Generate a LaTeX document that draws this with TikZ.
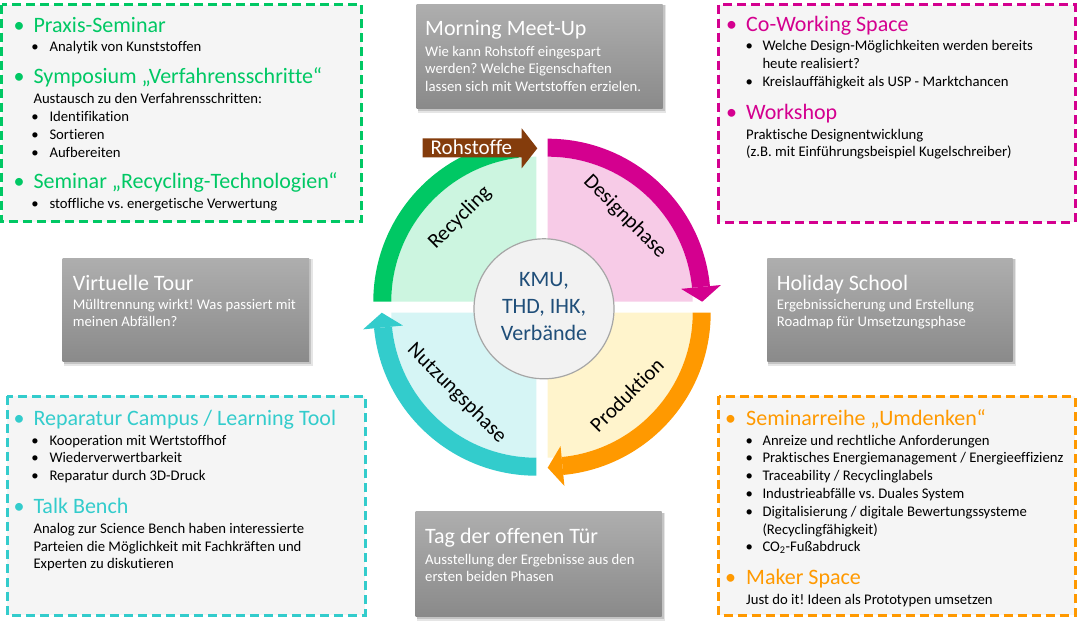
\documentclass[tikz,border=0pt]{standalone}
\usepackage{fontspec}
\setmainfont{Carlito}[Ligatures={NoCommon,NoDiscretionary,NoRare}]
\frenchspacing
\definecolor{kGreen}{HTML}{00C864}
\definecolor{kGreenL}{HTML}{CCF5E0}
\definecolor{kMag}{HTML}{D4008F}
\definecolor{kMagL}{HTML}{F7CBE7}
\definecolor{kOr}{HTML}{FF9900}
\definecolor{kOrL}{HTML}{FFF4CC}
\definecolor{kTu}{HTML}{33CCCC}
\definecolor{kTuL}{HTML}{D6F5F5}
\definecolor{kBrown}{HTML}{843C0C}
\definecolor{kBoxBg}{HTML}{F5F5F5}
\definecolor{kGTop}{HTML}{AEAEAE}
\definecolor{kGBot}{HTML}{8A8A8A}
\definecolor{kHubTxt}{HTML}{1F4E79}
\definecolor{kHubFill}{HTML}{F2F2F2}
\definecolor{kHubDraw}{HTML}{A6A6A6}
\newcommand\mygraybox[4]{%
  \fill[black,opacity=.10] ({#1+1},{#2+1}) rectangle ({#3+3.5},{#4+4.5});
  \fill[black,opacity=.14] ({#1+1},{#2+1}) rectangle ({#3+2},{#4+2.5});
  \shade[top color=kGTop,bottom color=kGBot] (#1,#2) rectangle (#3,#4);}
\begin{document}
\begin{tikzpicture}[x=1pt,y=-1pt,
  dbox/.style={fill=kBoxBg,line width=3pt,dash pattern=on 9pt off 5pt},
  hd/.style={anchor=base west,inner sep=0pt,font=\fontsize{22}{26}\selectfont},
  hbul/.style={anchor=base,inner sep=0pt,font=\fontsize{22}{26}\selectfont},
  tx/.style={anchor=base west,inner sep=0pt,font=\fontsize{14.7}{17.6}\selectfont,text=black},
  sbul/.style={anchor=base,inner sep=0pt,font=\fontsize{14.7}{17.6}\selectfont,text=black},
  gtitle/.style={hd,text=white},
  gtx/.style={tx,text=white},
  qlabel/.style={inner sep=0pt,font=\fontsize{21}{24}\selectfont,text=black},
  hubtx/.style={anchor=base,inner sep=0pt,font=\fontsize{22}{26}\selectfont,text=kHubTxt}]
\useasboundingbox (0,0) rectangle (1080,624);
\fill[white] (0,0) rectangle (1080,624);

% ---------- dashed boxes ----------
\draw[dbox,draw=kGreen] (1.5,4.8) rectangle (361.5,221.5);
\draw[dbox,draw=kMag] (718.7,4.7) rectangle (1075,222);
\draw[dbox,draw=kTu] (7.3,396.3) rectangle (365,615.3);
\draw[dbox,draw=kOr] (718.7,396.3) rectangle (1075,615.3);

% ---------- gray boxes ----------
\mygraybox{416.7}{4}{662.7}{108.3}
\mygraybox{62.7}{258.3}{309}{361.7}
\mygraybox{767.3}{258.3}{1012.7}{361.7}
\mygraybox{415.7}{511.7}{661.7}{616}

\node[gtitle] (mmT) at (425,35.5) {Morning Meet-Up};
\node[gtx] (mm1) at (425,56) {Wie kann Rohstoff eingespart};
\node[gtx] (mm2) at (425,73.5) {werden? Welche Eigenschaften};
\node[gtx] (mm3) at (425,91) {lassen sich mit Wertstoffen erzielen.};

\node[gtitle] (vtT) at (72.7,290) {Virtuelle Tour};
\node[gtx] (vt1) at (72.7,309) {Mülltrennung wirkt! Was passiert mit};
\node[gtx] (vt2) at (72.7,326.7) {meinen Abfällen?};

\node[gtitle] (hsT) at (776.7,290) {Holiday School};
\node[gtx] (hs1) at (776.7,309) {Ergebnissicherung und Erstellung};
\node[gtx] (hs2) at (776.7,326.7) {Roadmap für Umsetzungsphase};

\node[gtitle] (ttT) at (425,543.3) {Tag der offenen Tür};
\node[gtx] (tt1) at (425,564) {Ausstellung der Ergebnisse aus den};
\node[gtx] (tt2) at (425,581) {ersten beiden Phasen};

% ---------- green box text ----------
\node[hbul,text=kGreen] (gb1) at (19.2,32) {•};
\node[hd,text=kGreen] (gh1) at (33.3,32) {Praxis-Seminar};
\node[sbul] (gs1) at (35,51.7) {•};
\node[tx] (gt1) at (49.3,51.7) {Analytik von Kunststoffen};
\node[hbul,text=kGreen] (gb2) at (19.2,83.3) {•};
\node[hd,text=kGreen] (gh2) at (33.3,83.3) {Symposium „Verfahrensschritte“};
\node[tx] (gt2) at (33.3,103.3) {Austausch zu den Verfahrensschritten:};
\node[sbul] (gs3) at (35,121.7) {•};
\node[tx] (gt3) at (49.3,121.7) {Identifikation};
\node[sbul] (gs4) at (35,139.3) {•};
\node[tx] (gt4) at (49.3,139.3) {Sortieren};
\node[sbul] (gs5) at (35,157.3) {•};
\node[tx] (gt5) at (49.3,157.3) {Aufbereiten};
\node[hbul,text=kGreen] (gb3) at (19.2,188.3) {•};
\node[hd,text=kGreen] (gh3) at (33.3,188.3) {Seminar „Recycling-Technologien“};
\node[sbul] (gs6) at (35,208.3) {•};
\node[tx] (gt6) at (49.3,208.3) {stoffliche vs. energetische Verwertung};

% ---------- magenta box text ----------
\node[hbul,text=kMag] (mb1) at (731.7,31.7) {•};
\node[hd,text=kMag] (mh1) at (746,31.7) {Co-Working Space};
\node[sbul] (ms1) at (749.3,50.7) {•};
\node[tx] (mt1) at (762.3,50.7) {Welche Design-Möglichkeiten werden bereits};
\node[tx] (mt2) at (762.3,68.3) {heute realisiert?};
\node[sbul] (ms3) at (749.3,86.7) {•};
\node[tx] (mt3) at (762.3,86.7) {Kreislauffähigkeit als USP - Marktchancen};
\node[hbul,text=kMag] (mb2) at (731.7,119.3) {•};
\node[hd,text=kMag] (mh2) at (746,119.3) {Workshop};
\node[tx] (mt4) at (746,139.3) {Praktische Designentwicklung};
\node[tx] (mt5) at (746,156.7) {(z.B. mit Einführungsbeispiel Kugelschreiber)};

% ---------- turquoise box text ----------
\node[hbul,text=kTu] (tb1) at (19.2,425) {•};
\node[hd,text=kTu] (th1) at (33.3,425) {Reparatur Campus / Learning Tool};
\node[sbul] (ts1) at (35,445) {•};
\node[tx] (tq1) at (49.3,445) {Kooperation mit Wertstoffhof};
\node[sbul] (ts2) at (35,462.7) {•};
\node[tx] (tq2) at (49.3,462.7) {Wiederverwertbarkeit};
\node[sbul] (ts3) at (35,480.7) {•};
\node[tx] (tq3) at (49.3,480.7) {Reparatur durch 3D-Druck};
\node[hbul,text=kTu] (tb2) at (19.2,513.3) {•};
\node[hd,text=kTu] (th2) at (33.3,513.3) {Talk Bench};
\node[tx] (tq4) at (33.3,533.3) {Analog zur Science Bench haben interessierte};
\node[tx] (tq5) at (33.3,551) {Parteien die Möglichkeit mit Fachkräften und};
\node[tx] (tq6) at (33.3,568.3) {Experten zu diskutieren};

% ---------- orange box text ----------
\node[hbul,text=kOr] (ob1) at (730.7,425) {•};
\node[hd,text=kOr] (oh1) at (746,425) {Seminarreihe „Umdenken“};
\node[sbul] (os1) at (749.3,445) {•};
\node[tx] (ot1) at (762.3,445) {Anreize und rechtliche Anforderungen};
\node[sbul] (os2) at (749.3,462.7) {•};
\node[tx] (ot2) at (762.3,462.7) {Praktisches Energiemanagement / Energieeffizienz};
\node[sbul] (os3) at (749.3,480.7) {•};
\node[tx] (ot3) at (762.3,480.7) {Traceability / Recyclinglabels};
\node[sbul] (os4) at (749.3,498.3) {•};
\node[tx] (ot4) at (762.3,498.3) {Industrieabfälle vs. Duales System};
\node[sbul] (os5) at (749.3,516) {•};
\node[tx] (ot5) at (762.3,516) {Digitalisierung / digitale Bewertungssysteme};
\node[tx] (ot6) at (762.3,534) {(Recyclingfähigkeit)};
\node[sbul] (os7) at (749.3,551.7) {•};
\node[tx] (ot7) at (762.3,551.7) {CO\textsubscript{2}-Fußabdruck};
\node[hbul,text=kOr] (ob2) at (730.7,584) {•};
\node[hd,text=kOr] (oh2) at (746,584) {Maker Space};
\node[tx] (ot8) at (746,604) {Just do it! Ideen als Prototypen umsetzen};

% ---------- cycle: quadrants ----------
\fill[kMagL,shift={(547.7,301.7)}] (0,0) -- (-90:145) arc[start angle=-90,end angle=0,radius=145] -- cycle;
\fill[kOrL,shift={(547.7,312.7)}] (0,0) -- (0:145) arc[start angle=0,end angle=90,radius=145] -- cycle;
\fill[kTuL,shift={(536.3,312.7)}] (0,0) -- (90:145) arc[start angle=90,end angle=180,radius=145] -- cycle;
\fill[kGreenL,shift={(536.3,301.7)}] (0,0) -- (180:145) arc[start angle=180,end angle=270,radius=145] -- cycle;

% ---------- cycle: arrow bands ----------
\fill[kMag,shift={(547.7,301.7)}] (-90:163) arc[start angle=-90,end angle=-5.5,radius=163] -- (-5.5:145) arc[start angle=-5.5,end angle=-90,radius=145] -- cycle;
\fill[kMag,shift={(547.7,301.7)}] (-5.5:134) -- (0:154.5) -- (-5.5:174) -- cycle;
\fill[kOr,shift={(547.7,312.7)}] (0:163) arc[start angle=0,end angle=84.5,radius=163] -- (84.5:145) arc[start angle=84.5,end angle=0,radius=145] -- cycle;
\fill[kOr,shift={(547.7,312.7)}] (84.5:134) -- (90:155) -- (84.5:174) -- cycle;
\fill[kTu,shift={(536.3,312.7)}] (90:163) arc[start angle=90,end angle=174.5,radius=163] -- (174.5:145) arc[start angle=174.5,end angle=90,radius=145] -- cycle;
\fill[kTu,shift={(536.3,312.7)}] (174.5:134) -- (180:154.5) -- (174.5:174) -- cycle;
\fill[kGreen,shift={(536.3,301.7)}] (180:163) arc[start angle=180,end angle=263,radius=163] -- (263:145) arc[start angle=263,end angle=180,radius=145] -- cycle;

% ---------- Rohstoffe arrow ----------
\fill[kBrown] (422.7,138.3) -- (521.7,138.3) -- (521.7,128.3) -- (537.3,148.3) -- (521.7,168.3) -- (521.7,157.3) -- (422.7,157.3) -- cycle;
\node[anchor=base west,inner sep=0pt,font=\fontsize{21}{24}\selectfont,text=white] (roh) at (430.5,154.5) {Rohstoffe};

% ---------- quadrant labels ----------
\node[qlabel,rotate=45] (lRec) at (460,218) {Recycling};
\node[qlabel,rotate=-45] (lDes) at (625,216.7) {Designphase};
\node[qlabel,rotate=45] (lPro) at (626.7,395) {Produktion};
\node[qlabel,rotate=-45] (lNut) at (456.7,393.3) {Nutzungsphase};

% ---------- hub ----------
\node[circle,fill=kHubFill,draw=kHubDraw,line width=1.2pt,minimum size=140pt,inner sep=0pt] (hub) at (544,308.8) {};
\node[hubtx] (hub1) at (544,286.7) {KMU,};
\node[hubtx] (hub2) at (544,313.3) {THD, IHK,};
\node[hubtx] (hub3) at (544,340) {Verbände};
\end{tikzpicture}
\end{document}
